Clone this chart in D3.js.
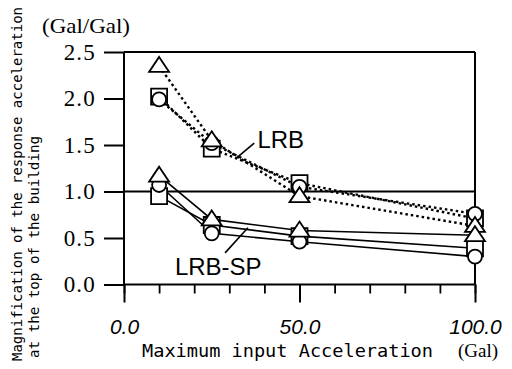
<!DOCTYPE html>
<html>
<head>
<meta charset="utf-8">
<script src="https://cdn.jsdelivr.net/npm/d3@7"></script>
<style>
body { margin: 0; background: #fff; }
svg { display: block; }
</style>
</head>
<body>
<script>
/* values */
var xVals = [10, 25, 50, 100];
var lrbTri = [2.35, 1.55, 0.95, 0.63];
var lrbSq = [2.02, 1.46, 1.09, 0.71];
var lrbCir = [1.99, 1.52, 1.05, 0.76];
var spTri = [1.17, 0.70, 0.58, 0.53];
var spSq = [0.95, 0.64, 0.52, 0.39];
var spCir = [1.07, 0.55, 0.46, 0.30];
var yTicks = [0, 0.5, 1.0, 1.5, 2.0, 2.5];
var xMinor = [0, 10, 20, 30, 40, 50, 60, 70, 80, 90, 100];
var xMajor = [0, 50, 100];

var series = [
	{vals: lrbSq, mark: "square", dotted: true},
	{vals: lrbCir, mark: "circle", dotted: true},
	{vals: lrbTri, mark: "triangle", dotted: true},
	{vals: spSq, mark: "square", dotted: false},
	{vals: spCir, mark: "circle", dotted: false},
	{vals: spTri, mark: "triangle", dotted: false}
];

var W = 512, H = 369;
var svg = d3.select("body").append("svg")
	.attr("width", W)
	.attr("height", H)
	.style("background", "#fff");

var x = d3.scaleLinear().domain([0, 100]).range([124, 475]);
var y = d3.scaleLinear().domain([0, 2.5]).range([284.5, 52]);

/* frame */
var frame = svg.append("g").attr("stroke", "#000").attr("stroke-width", 2).attr("fill", "none");
frame.append("line").attr("x1", x(0)).attr("x2", x(100)).attr("y1", y(2.5)).attr("y2", y(2.5));
frame.append("line").attr("x1", x(0)).attr("x2", x(100)).attr("y1", y(0)).attr("y2", y(0));
frame.append("line").attr("x1", x(0)).attr("x2", x(0)).attr("y1", y(2.5)).attr("y2", y(0));
frame.append("line").attr("x1", x(100)).attr("x2", x(100)).attr("y1", y(2.5)).attr("y2", y(0));
frame.append("line").attr("x1", x(0)).attr("x2", x(100)).attr("y1", y(1)).attr("y2", y(1)).attr("stroke-width", 1.8);

/* axes */
var yAxis = svg.append("g")
	.attr("transform", "translate(" + x(0) + ",0)")
	.call(d3.axisLeft(y).tickValues(yTicks).tickSize(20).tickSizeOuter(0).tickPadding(8).tickFormat(d3.format(".1f")));
yAxis.select(".domain").remove();
yAxis.selectAll("line").attr("stroke-width", 2);
yAxis.selectAll("text")
	.attr("font-family", "'Liberation Serif', 'DejaVu Serif', serif")
	.attr("font-size", 23)
	.attr("letter-spacing", 1.2)
	.attr("fill", "#000");

var xAxisMinor = svg.append("g")
	.attr("transform", "translate(0," + y(0) + ")")
	.call(d3.axisBottom(x).tickValues(xMinor).tickSize(9).tickSizeOuter(0).tickFormat(""));
xAxisMinor.select(".domain").remove();
xAxisMinor.selectAll("line").attr("stroke-width", 1.8);

var xAxis = svg.append("g")
	.attr("transform", "translate(0," + y(0) + ")")
	.call(d3.axisBottom(x).tickValues(xMajor).tickSize(18).tickSizeOuter(0).tickPadding(17).tickFormat(d3.format(".1f")));
xAxis.select(".domain").remove();
xAxis.selectAll("line").attr("stroke-width", 2);
xAxis.selectAll("text")
	.attr("font-family", "'Liberation Sans', Arial, sans-serif")
	.attr("font-style", "italic")
	.attr("font-size", 21)
	.attr("fill", "#000");

/* series lines */
var line = d3.line()
	.x(function(d, i){ return x(xVals[i]); })
	.y(function(d){ return y(d); });

svg.append("g").selectAll("path")
	.data(series)
	.join("path")
	.attr("d", function(s){ return line(s.vals); })
	.attr("fill", "none")
	.attr("stroke", "#000")
	.attr("stroke-width", function(s){ return s.dotted ? 2.4 : 1.6; })
	.attr("stroke-dasharray", function(s){ return s.dotted ? "2.5,3" : null; });

/* markers */
function markPath(kind){
	if (kind == "triangle") return "M0,-9L10,6L-10,6Z";
	if (kind == "square") return "M-8,-8L8,-8L8,8L-8,8Z";
	return d3.arc()({innerRadius: 0, outerRadius: 7, startAngle: 0, endAngle: 2 * Math.PI});
}

var pts = [];
series.forEach(function(s){
	s.vals.forEach(function(v, i){
		pts.push({x: xVals[i], y: v, mark: s.mark});
	});
});

svg.append("g").selectAll("path")
	.data(pts)
	.join("path")
	.attr("transform", function(d){ return "translate(" + x(d.x) + "," + y(d.y) + ")"; })
	.attr("d", function(d){ return markPath(d.mark); })
	.attr("fill", "#fff")
	.attr("stroke", "#000")
	.attr("stroke-width", 1.8);

/* annotations */
var note = svg.append("g").attr("stroke", "#000").attr("stroke-width", 1.6);
note.append("line").attr("x1", x(37.1)).attr("y1", y(1.52)).attr("x2", x(32)).attr("y2", y(1.36));
note.append("line").attr("x1", x(28.8)).attr("y1", y(0.34)).attr("x2", x(35.3)).attr("y2", y(0.61));

svg.append("text")
	.attr("x", x(38)).attr("y", y(1.47))
	.attr("font-family", "'Liberation Sans', Arial, sans-serif")
	.attr("font-size", 24)
	.text("LRB");
svg.append("text")
	.attr("x", x(14.5)).attr("y", y(0.10))
	.attr("font-family", "'Liberation Sans', Arial, sans-serif")
	.attr("font-size", 24)
	.text("LRB-SP");

/* titles */
svg.append("text")
	.attr("x", 42).attr("y", 33)
	.attr("font-family", "'Liberation Serif', serif")
	.attr("font-size", 21)
	.attr("textLength", 88)
	.attr("lengthAdjust", "spacingAndGlyphs")
	.text("(Gal/Gal)");

svg.append("text")
	.attr("transform", "translate(22,361)rotate(-90)")
	.attr("font-family", "'DejaVu Sans Mono', monospace")
	.attr("font-size", 14)
	.attr("textLength", 354)
	.attr("lengthAdjust", "spacingAndGlyphs")
	.text("Magnification of the response acceleration");
svg.append("text")
	.attr("transform", "translate(39,358)rotate(-90)")
	.attr("font-family", "'DejaVu Sans Mono', monospace")
	.attr("font-size", 14)
	.attr("textLength", 222)
	.attr("lengthAdjust", "spacingAndGlyphs")
	.text("at the top of the building");

svg.append("text")
	.attr("x", 142).attr("y", 357)
	.attr("font-family", "'DejaVu Sans Mono', monospace")
	.attr("font-size", 17)
	.attr("textLength", 291)
	.attr("lengthAdjust", "spacingAndGlyphs")
	.text("Maximum input Acceleration");
svg.append("text")
	.attr("x", 458).attr("y", 357)
	.attr("font-family", "'Liberation Serif', serif")
	.attr("font-size", 19)
	.text("(Gal)");
</script>
</body>
</html>
